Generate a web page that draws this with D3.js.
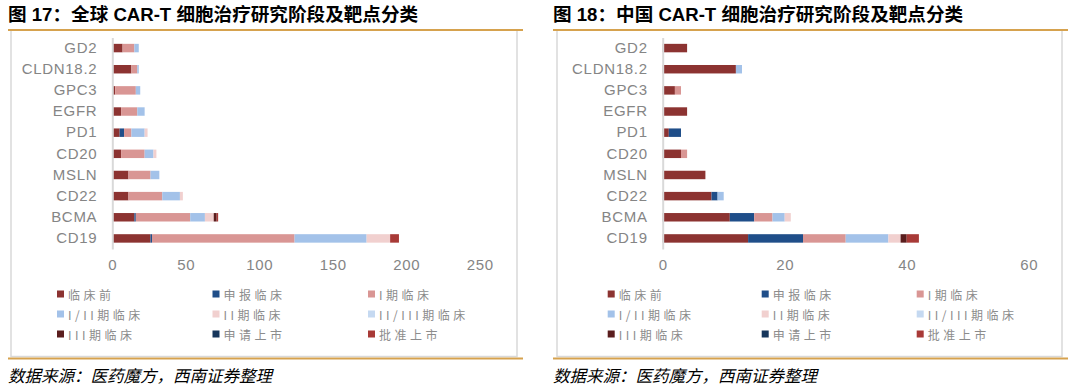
<!DOCTYPE html>
<html>
<head>
<meta charset="utf-8">
<script src="https://cdn.jsdelivr.net/npm/d3@7"></script>
<style>
    body { margin: 0; background: #fff; }
    svg { display: block; }
</style>
</head>
<body>
<svg id="chart" width="1080" height="386"></svg>
<script>
// Targets, top to bottom
const targets = ['GD2', 'CLDN18.2', 'GPC3', 'EGFR', 'PD1', 'CD20', 'MSLN', 'CD22', 'BCMA', 'CD19'];
const stages = ['临床前', '申报临床', 'I期临床', 'I/II期临床', 'II期临床', 'II/III期临床', 'III期临床', '申请上市', '批准上市'];
const stageColors = ['#8c3331', '#1f4e89', '#d99694', '#a3c2e9', '#f1d0cf', '#c5d9f1', '#5a1d1d', '#16365c', '#a83a37'];

// Fig 17 - global counts per stage (same order as targets)
const globalPreclinical = [7, 13, 2, 6, 5, 6, 11, 11, 15, 26];
const globalFiling      = [0, 0, 0, 0, 3, 0, 0, 0, 1, 1];
const globalPhase1      = [8, 4, 14, 11, 5, 16, 15, 23, 37, 97];
const globalPhase12     = [3, 1, 3, 5, 9, 6, 6, 12, 10, 49];
const globalPhase2      = [0, 0, 0, 0, 2, 2, 0, 2, 6, 16];
const globalPhase23     = [0, 0, 0, 0, 0, 0, 0, 0, 0, 0];
const globalPhase3      = [0, 0, 0, 0, 0, 0, 0, 0, 2, 0];
const globalNda         = [0, 0, 0, 0, 0, 0, 0, 0, 0, 0];
const globalApproved    = [0, 0, 0, 0, 0, 0, 0, 0, 1, 6];
const globalTicks = [0, 50, 100, 150, 200, 250];

// Fig 18 - China counts per stage
const chinaPreclinical = [4, 12, 2, 4, 1, 3, 7, 8, 11, 14];
const chinaFiling      = [0, 0, 0, 0, 2, 0, 0, 1, 4, 9];
const chinaPhase1      = [0, 0, 1, 0, 0, 1, 0, 0, 3, 7];
const chinaPhase12     = [0, 1, 0, 0, 0, 0, 0, 1, 2, 7];
const chinaPhase2      = [0, 0, 0, 0, 0, 0, 0, 0, 1, 2];
const chinaPhase23     = [0, 0, 0, 0, 0, 0, 0, 0, 0, 0];
const chinaPhase3      = [0, 0, 0, 0, 0, 0, 0, 0, 0, 1];
const chinaNda         = [0, 0, 0, 0, 0, 0, 0, 0, 0, 0];
const chinaApproved    = [0, 0, 0, 0, 0, 0, 0, 0, 0, 2];
const chinaTicks = [0, 20, 40, 60];

const sourceText = '数据来源：医药魔方，西南证券整理';

function buildRows(seriesList) {
    return targets.map((t, i) => {
        const row = { target: t };
        stages.forEach((s, k) => { row[s] = seriesList[k][i]; });
        return row;
    });
}

const panels = [
    {
        title: '图 17：全球 CAR-T 细胞治疗研究阶段及靶点分类',
        rows: buildRows([globalPreclinical, globalFiling, globalPhase1, globalPhase12, globalPhase2,
            globalPhase23, globalPhase3, globalNda, globalApproved]),
        ticks: globalTicks,
        frameX: 8, boxX: 11, boxW: 506,
        x0: 112.3, x1: 479.8,
        legendX: [57, 212.5, 368]
    },
    {
        title: '图 18：中国 CAR-T 细胞治疗研究阶段及靶点分类',
        rows: buildRows([chinaPreclinical, chinaFiling, chinaPhase1, chinaPhase12, chinaPhase2,
            chinaPhase23, chinaPhase3, chinaNda, chinaApproved]),
        ticks: chinaTicks,
        frameX: 553, boxX: 557, boxW: 505,
        x0: 662.7, x1: 1028.7,
        legendX: [607.7, 761.7, 916.7]
    }
];

const svg = d3.select('#chart');
svg.append('rect').attr('width', 1080).attr('height', 386).attr('fill', '#fff');

const labelFont = '"Liberation Sans", Arial, sans-serif';
const cjkFont = '"Liberation Sans", "Noto Sans CJK SC", sans-serif';

panels.forEach(p => {
    const g = svg.append('g');

    // frame
    g.append('rect')
        .attr('x', p.boxX).attr('y', 30)
        .attr('width', p.boxW).attr('height', 326.5)
        .attr('fill', 'none')
        .attr('stroke', '#d9d9d9')
        .attr('stroke-width', 1.5);

    [30, 358.5].forEach(yy => {
        g.append('line')
            .attr('x1', p.frameX).attr('x2', p.frameX + 515)
            .attr('y1', yy).attr('y2', yy)
            .attr('stroke', '#d6a24e')
            .attr('stroke-width', 2);
    });

    g.append('text')
        .attr('x', p.frameX).attr('y', 21)
        .style('font-family', cjkFont)
        .style('font-weight', 'bold')
        .style('font-size', '18.6px')
        .attr('fill', '#000')
        .text(p.title);

    g.append('text')
        .attr('x', p.frameX).attr('y', 382)
        .style('font-family', '"Noto Sans CJK SC", sans-serif')
        .style('font-style', 'italic')
        .style('font-size', '16.5px')
        .attr('fill', '#000')
        .text(sourceText);

    // scales
    const x = d3.scaleLinear()
        .domain([p.ticks[0], p.ticks[p.ticks.length - 1]])
        .range([p.x0, p.x1]);

    const y = d3.scaleBand()
        .domain(targets)
        .range([37.5, 249])
        .paddingInner(0.6)
        .paddingOuter(0.3);

    const stacked = d3.stack().keys(stages)(p.rows);

    g.selectAll('.layer')
        .data(stacked)
        .enter().append('g')
        .attr('class', 'layer')
        .attr('fill', (d, i) => stageColors[i])
        .selectAll('rect')
        .data(d => d)
        .enter().append('rect')
        .attr('x', d => x(d[0]))
        .attr('y', d => y(d.data.target))
        .attr('width', d => x(d[1]) - x(d[0]))
        .attr('height', y.bandwidth());

    // y axis
    const yAxis = g.append('g')
        .attr('transform', `translate(${p.x0},0)`)
        .call(d3.axisLeft(y).tickSize(0).tickSizeOuter(0).tickPadding(15));
    yAxis.select('.domain').attr('stroke', '#d9d9d9').attr('stroke-width', 2);
    yAxis.selectAll('text')
        .style('font-family', labelFont)
        .style('font-size', '15px')
        .style('letter-spacing', '0.7px')
        .attr('fill', '#858585');

    // x axis
    const xAxis = g.append('g')
        .attr('transform', 'translate(0,259)')
        .call(d3.axisBottom(x).tickValues(p.ticks).tickSize(0).tickPadding(0));
    xAxis.select('.domain').remove();
    xAxis.selectAll('text')
        .style('font-family', labelFont)
        .style('font-size', '15px')
        .style('letter-spacing', '0.7px')
        .attr('fill', '#858585');

    // legend
    const legend = g.selectAll('.legend-item')
        .data(stages)
        .enter().append('g')
        .attr('class', 'legend-item')
        .attr('transform', (d, i) => `translate(${p.legendX[i % 3]},${294 + Math.floor(i / 3) * 20})`);

    legend.append('rect')
        .attr('x', 0).attr('y', -3.5)
        .attr('width', 7).attr('height', 7)
        .attr('fill', (d, i) => stageColors[i]);

    legend.append('text')
        .attr('x', 11).attr('y', 0)
        .attr('dominant-baseline', 'central')
        .style('font-family', '"Noto Sans CJK SC", sans-serif')
        .style('font-size', '12px')
        .style('letter-spacing', '3.5px')
        .attr('fill', '#8c8c8c')
        .text(d => d);
});
</script>
</body>
</html>
